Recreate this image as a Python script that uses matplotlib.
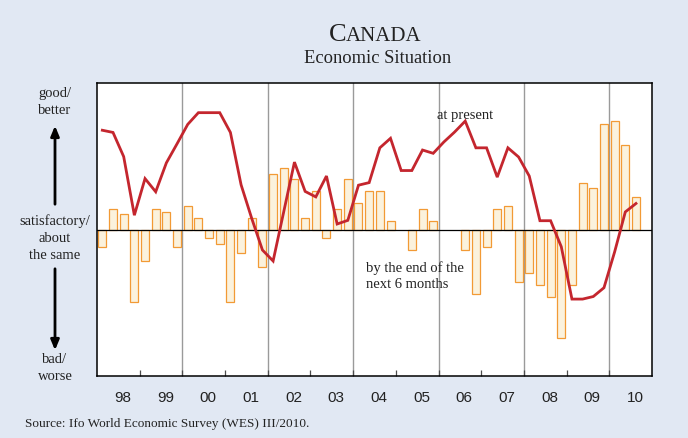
"""
Canada - Ifo World Economic Survey, economic situation (quarterly, 1998-2010 Q3).
Line: assessment at present; bars: expectations by the end of the next 6 months.
Both on the WES 1-9 scale, 5 = satisfactory.
"""
import matplotlib
matplotlib.use("Agg")
import matplotlib.pyplot as plt
from matplotlib.patches import FancyArrowPatch
import numpy as np

# ---------------------------------------------------------------------------
# Data, one value per quarter from 1998 Q1
# ---------------------------------------------------------------------------
years = ["98", "99", "00", "01", "02", "03", "04", "05", "06", "07", "08", "09", "10"]

present = [
    7.71, 7.65, 6.99, 5.39,   # 1998
    6.39, 6.03, 6.82, 7.34,   # 1999
    7.87, 8.19, 8.19, 8.19,   # 2000
    7.65, 6.22, 5.30, 4.44,   # 2001
    4.14, 5.49, 6.84, 6.04,   # 2002
    5.89, 6.46, 5.15, 5.25,   # 2003
    6.21, 6.28, 7.23, 7.49,   # 2004
    6.61, 6.61, 7.17, 7.08,   # 2005
    7.39, 7.66, 7.96, 7.23,   # 2006
    7.23, 6.43, 7.23, 6.98,   # 2007
    6.46, 5.24, 5.24, 4.53,   # 2008
    3.10, 3.10, 3.17, 3.41,   # 2009
    4.39, 5.48, 5.71,         # 2010
]

# expectations, as deviation from "satisfactory"
expect_dev = [
    -0.47, 0.55, 0.41, -1.99,
    -0.87, 0.55, 0.48, -0.47,
    0.64, 0.32, -0.24, -0.40,
    -1.99, -0.63, 0.32, -1.03,
    1.52, 1.68, 1.37, 0.32,
    1.04, -0.24, 0.55, 1.37,
    0.72, 1.04, 1.04, 0.24,
    0.00, -0.57, 0.55, 0.24,
    0.00, 0.00, -0.57, -1.75,
    -0.47, 0.55, 0.64, -1.42,
    -1.19, -1.51, -1.84, -2.95,
    -1.51, 1.27, 1.12, 2.88,
    2.95, 2.31, 0.89,
]

BASE = 5.0
W, H = 688, 439

def fx(px):
    return px / W

def fy(py):
    return 1 - py / H

BG = "#e1e8f3"
C_LINE = "#c4262e"
C_EDGE = "#f29a35"
C_FILL = "#fbf2dd"
C_TXT = "#222222"
SERIF = "Liberation Serif"
SANS = "Liberation Sans"

fig = plt.figure(figsize=(W / 100, H / 100), dpi=100, facecolor=BG)
ax = fig.add_axes([fx(97), fy(377), fx(652) - fx(97), fy(84) - fy(377)])
ax.set_facecolor("white")

q = np.arange(len(present)) + 0.5
qb = np.arange(len(expect_dev)) + 0.5
dev = np.array(expect_dev)

# ---- bars: expectations ----
nz = dev != 0
ax.bar(qb[nz], dev[nz], bottom=BASE, width=0.75, color=C_FILL,
       edgecolor=C_EDGE, linewidth=0.9, zorder=2)

# ---- line: present situation ----
ax.plot(q, present, color=C_LINE, lw=2.0, solid_joinstyle="miter", zorder=4)

ax.axhline(BASE, color="black", lw=0.9, zorder=3)

# two-year gridlines, ticks at every year boundary
nq = 4 * len(years)
for k in range(2, len(years), 2):
    ax.axvline(4 * k, color="#9a9a9a", lw=1.0, zorder=1)
ax.set_xlim(0, nq)
ax.set_ylim(1, 9)
ax.set_xticks([4 * k for k in range(1, len(years))])
ax.tick_params(axis="x", direction="in", length=4, width=0.9, labelbottom=False,
               color="0.3")
ax.set_yticks([])
for sp in ax.spines.values():
    sp.set_linewidth(1.1)
    sp.set_color("black")

# year labels, beneath the axes
for k, lab in enumerate(years):
    ax.text(4 * k + 2.4, -0.073, lab, transform=ax.get_xaxis_transform(),
            ha="center", va="center", fontsize=11, family=SANS, color=C_TXT)

# in-chart annotations
ax.text(fx(437), fy(115), "at present", transform=fig.transFigure, ha="left",
        va="center", fontsize=10.5, family=SERIF, color=C_TXT)
ax.text(fx(366), fy(276), "by the end of the\nnext 6 months", transform=fig.transFigure,
        ha="left", va="center", fontsize=10.5, family=SERIF, color=C_TXT,
        linespacing=1.35)

# ---- left scale description ----
lab_kw = dict(ha="center", va="center", fontsize=10.5, family=SERIF,
              color=C_TXT, linespacing=1.4)
fig.text(fx(55), fy(102), "good/\nbetter", **lab_kw)
fig.text(fx(55), fy(238), "satisfactory/\nabout\nthe same", **lab_kw)
fig.text(fx(55), fy(368), "bad/\nworse", **lab_kw)
for p0, p1 in [((55, 208), (55, 124)), ((55, 267), (55, 354))]:
    fig.add_artist(FancyArrowPatch(
        (fx(p0[0]), fy(p0[1])), (fx(p1[0]), fy(p1[1])), transform=fig.transFigure,
        arrowstyle="-|>,head_length=0.6,head_width=0.25", color="black",
        lw=2.0, mutation_scale=10))

# ---- title (small caps) ----
fig.canvas.draw()
r = fig.canvas.get_renderer()
t1 = fig.text(0, fy(41), "C", fontsize=19, family=SERIF, color=C_TXT,
              ha="left", va="baseline")
t2 = fig.text(0, fy(41), "ANADA", fontsize=15, family=SERIF, color=C_TXT,
              ha="left", va="baseline")
w1 = t1.get_window_extent(r).width
w2 = t2.get_window_extent(r).width
x0 = 375 - (w1 + w2) / 2
t1.set_x(fx(x0))
t2.set_x(fx(x0 + w1))
fig.text(fx(378), fy(63), "Economic Situation", fontsize=13.3, family=SERIF,
         color=C_TXT, ha="center", va="baseline")

fig.text(fx(25), fy(424), "Source: Ifo World Economic Survey (WES) III/2010.",
         fontsize=9.5, family=SERIF, color=C_TXT, ha="left", va="center")

fig.savefig("out.png", dpi=100, facecolor=BG)
